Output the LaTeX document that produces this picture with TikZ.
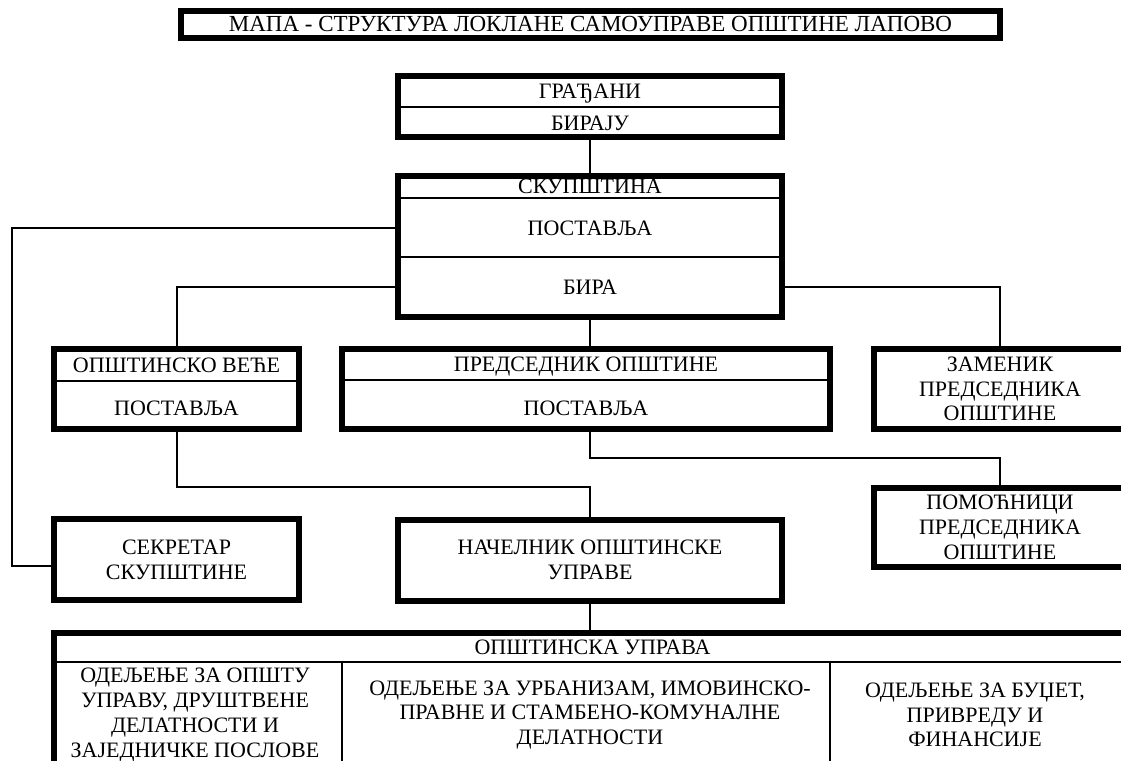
\documentclass[tikz,border=0pt]{standalone}
\usepackage{fontspec}
\setmainfont{Liberation Serif}
\usetikzlibrary{positioning}

\tikzset{
  thickbox/.style={draw, line width=6pt, inner sep=0pt, align=center},
  lbl/.style={inner sep=0pt, text height=14.5pt, text depth=0pt},
  link/.style={line width=2pt},
  divider/.style={line width=2pt},
}

\begin{document}
\begin{tikzpicture}[x=1pt, y=-1pt, font=\fontsize{22}{24.8}\selectfont]
    \clip (0,0) rectangle (1121,760);
    \fill[white] (0,0) rectangle (1121,760);

    % Title
    \node[thickbox, lbl, minimum width=819pt, minimum height=27pt, font=\fontsize{23}{26}\selectfont]
        (title) at (590.5,24.5) {МАПА - СТРУКТУРА ЛОКЛАНЕ САМОУПРАВЕ ОПШТИНЕ ЛАПОВО};

    % Citizens and assembly
    \node[thickbox, minimum width=384pt, minimum height=61pt] (gradjani) at (590,106.5) {};
    \node[lbl] (grtxt) at (590,91) {ГРАЂАНИ};
    \node[lbl] (birajutxt) at (590,123) {БИРАЈУ};
    \node[thickbox, minimum width=384pt, minimum height=141pt] (skupstina) at (590,246.5) {};
    \node[lbl] (sktxt) at (590,186) {СКУПШТИНА};
    \node[lbl] (skpost) at (590,228) {ПОСТАВЉА};
    \node[lbl] (skbira) at (590,287) {БИРА};

    % Middle row
    \node[thickbox, minimum width=245pt, minimum height=80pt] (vece) at (176.5,389) {};
    \node[lbl] (vecetxt) at (176.5,365) {ОПШТИНСКО ВЕЋЕ};
    \node[lbl] (vecepost) at (176.5,408) {ПОСТАВЉА};
    \node[thickbox, minimum width=488pt, minimum height=80pt] (predsednik) at (586,389) {};
    \node[lbl] (predtxt) at (586,364) {ПРЕДСЕДНИК ОПШТИНЕ};
    \node[lbl] (predpost) at (586,408) {ПОСТАВЉА};
    \node[thickbox, minimum width=252pt, minimum height=80pt] (zamenik) at (1000,389)
        {ЗАМЕНИК\\ПРЕДСЕДНИКА\\ОПШТИНЕ};

    % Lower row
    \node[thickbox, minimum width=252pt, minimum height=79pt] (pomocnici) at (1000,527.5)
        {ПОМОЋНИЦИ\\ПРЕДСЕДНИКА\\ОПШТИНЕ};
    \node[thickbox, minimum width=245pt, minimum height=81pt] (sekretar) at (176.5,559.5)
        {СЕКРЕТАР\\СКУПШТИНЕ};
    \node[thickbox, minimum width=384pt, minimum height=81pt] (nacelnik) at (590,560)
        {НАЧЕЛНИК ОПШТИНСКЕ\\УПРАВЕ};

    % Municipal administration
    \node[thickbox, minimum width=1077pt, minimum height=133pt] (uprava) at (592.5,699.5) {};
    \node[lbl] (upravatxt) at (592.5,647) {ОПШТИНСКА УПРАВА};
    \node[align=center, inner sep=0pt] (odelj1) at (195,715)
        {ОДЕЉЕЊЕ ЗА ОПШТУ\\УПРАВУ, ДРУШТВЕНЕ\\ДЕЛАТНОСТИ И\\ЗАЈЕДНИЧКЕ ПОСЛОВЕ};
    \node[align=center, inner sep=0pt] (odelj2) at (590,715)
        {ОДЕЉЕЊЕ ЗА УРБАНИЗАМ, ИМОВИНСКО-\\ПРАВНЕ И СТАМБЕНО-КОМУНАЛНЕ\\ДЕЛАТНОСТИ};
    \node[align=center, inner sep=0pt] (odelj3) at (975,715)
        {ОДЕЉЕЊЕ ЗА БУЏЕТ,\\ПРИВРЕДУ И\\ФИНАНСИЈЕ};

    % Dividers
    \coordinate (col1) at (342,662);
    \coordinate (col2) at (830,662);
    \draw[divider] (gradjani.west) -- (gradjani.east);
    \draw[divider] (skupstina.west |- 0,198) -- (skupstina.east |- 0,198);
    \draw[divider] (skupstina.west |- 0,257) -- (skupstina.east |- 0,257);
    \draw[divider] (vece.west |- 0,381) -- (vece.east |- 0,381);
    \draw[divider] (predsednik.west |- 0,380) -- (predsednik.east |- 0,380);
    \draw[divider] (uprava.west |- col1) -- (uprava.east |- col1);
    \draw[divider] (col1) -- (col1 |- uprava.south);
    \draw[divider] (col2) -- (col2 |- uprava.south);

    % Connectors
    \coordinate (leftrail) at (12,566);
    \coordinate (vecebend) at (0,487);
    \coordinate (predbend) at (0,458);
    \draw[link] (gradjani.south) -- (skupstina.north);
    \draw[link] (skupstina.west |- skpost) -| (leftrail) -- (leftrail -| sekretar.west);
    \draw[link] (skupstina.west |- skbira) -| (vece.north);
    \draw[link] (skupstina.east |- skbira) -| (zamenik.north);
    \draw[link] (skupstina.south) -- (skupstina.south |- predsednik.north);
    \draw[link] (vece.south) |- (nacelnik.north |- vecebend) -- (nacelnik.north);
    \draw[link] (skupstina.south |- predsednik.south) |- (pomocnici.north |- predbend) -- (pomocnici.north);
    \draw[link] (nacelnik.south) -- (nacelnik.south |- uprava.north);
\end{tikzpicture}
\end{document}
